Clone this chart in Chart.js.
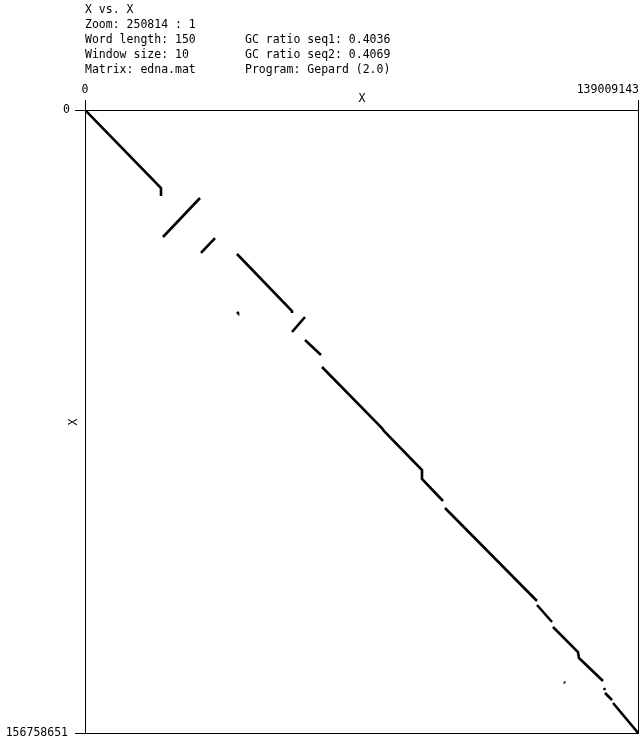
<!DOCTYPE html>
<html><head><meta charset="utf-8">
<script src="https://cdn.jsdelivr.net/npm/chart.js@4/dist/chart.umd.min.js"></script>
<style>html,body{margin:0;padding:0;background:#fff;}#wrap{width:644px;height:739px;}</style>
</head><body><div id="wrap"><canvas id="c" width="644" height="739"></canvas></div>
<script>
// Sequence lengths (axis ranges)
const seqXLength = 139009143;
const seqYLength = 156758651;
const xTickLabels = ["0", "139009143"];
const yTickLabels = ["0", "156758651"];
const headerLeft = ["X vs. X", "Zoom: 250814 : 1", "Word length: 150", "Window size: 10", "Matrix: edna.mat"];
const headerRight = ["", "", "GC ratio seq1: 0.4036", "GC ratio seq2: 0.4069", "Program: Gepard (2.0)"];
const axisTitleX = "X";
const axisTitleY = "X";

// Dotplot match segments (bp positions along seq1 / seq2)
const segmentX = [
  [0, 19.07e6, 19.07e6],
  [19.57e6, 28.86e6],
  [29.11e6, 32.62e6],
  [38.14e6, 51.94e6, 51.94e6],
  [38.14e6, 38.39e6],
  [51.94e6, 55.20e6],
  [55.20e6, 59.22e6],
  [59.47e6, 74.5e6, 75.0e6, 84.56e6, 84.56e6, 89.83e6],
  [90.33e6, 113.42e6],
  [113.42e6, 117.18e6],
  [117.43e6, 123.70e6, 123.95e6, 129.98e6],
  [120.19e6, 120.44e6],
  [130.23e6, 130.48e6],
  [130.48e6, 132.23e6],
  [132.49e6, 139.009143e6]
];
const segmentY = [
  [0, 19.59e6, 21.60e6],
  [31.90e6, 22.11e6],
  [35.92e6, 32.16e6],
  [36.18e6, 50.50e6, 51.00e6],
  [50.75e6, 51.00e6],
  [55.77e6, 52.00e6],
  [57.78e6, 61.55e6],
  [64.56e6, 79.9e6, 80.6e6, 90.44e6, 92.70e6, 98.23e6],
  [99.98e6, 123.35e6],
  [124.35e6, 128.62e6],
  [129.88e6, 136.16e6, 137.67e6, 143.44e6],
  [143.70e6, 143.95e6],
  [145.20e6, 145.70e6],
  [146.46e6, 148.22e6],
  [148.97e6, 156.758651e6]
];

const datasets = segmentX.map((xs, i) => ({
  data: xs.map((x, j) => ({x: x, y: segmentY[i][j]})),
  showLine: true,
  borderColor: '#000',
  backgroundColor: '#000',
  borderWidth: 2.6,
  pointRadius: 0,
  borderCapStyle: 'butt',
  tension: 0
}));

const FONT = '11.5px "DejaVu Sans Mono", monospace';

const framePlugin = {
  id: 'frame',
  afterDraw(chart) {
    const ctx = chart.ctx;
    const xs = chart.scales.x, ys = chart.scales.y;
    const L = xs.getPixelForValue(0), R = xs.getPixelForValue(seqXLength);
    const T = ys.getPixelForValue(0), B = ys.getPixelForValue(seqYLength);
    ctx.save();
    ctx.strokeStyle = '#000';
    ctx.lineWidth = 1;
    ctx.beginPath();
    ctx.rect(Math.round(L) + 0.5, Math.round(T) + 0.5, Math.round(R - L) - 1, Math.round(B - T) - 1);
    // ticks
    ctx.moveTo(Math.round(L) + 0.5, T - 10); ctx.lineTo(Math.round(L) + 0.5, T);
    ctx.moveTo(Math.round(R) - 0.5, T - 10); ctx.lineTo(Math.round(R) - 0.5, T);
    ctx.moveTo(L - 10, Math.round(T) + 0.5); ctx.lineTo(L, Math.round(T) + 0.5);
    ctx.moveTo(L - 10, Math.round(B) - 0.5); ctx.lineTo(L, Math.round(B) - 0.5);
    ctx.stroke();

    ctx.fillStyle = '#000';
    ctx.font = FONT;
    ctx.textBaseline = 'alphabetic';
    // header
    headerLeft.forEach((t, i) => { ctx.textAlign = 'left'; ctx.fillText(t, 85, 13 + i * 15); });
    headerRight.forEach((t, i) => { if (t) { ctx.textAlign = 'left'; ctx.fillText(t, 245, 13 + i * 15); } });
    // x tick labels
    ctx.textAlign = 'center';
    ctx.fillText(xTickLabels[0], L, 93);
    ctx.textAlign = 'right';
    ctx.fillText(xTickLabels[1], R, 93);
    // x title
    ctx.textAlign = 'center';
    ctx.fillText(axisTitleX, (L + R) / 2, 102);
    // y tick labels
    ctx.textAlign = 'right';
    ctx.textBaseline = 'middle';
    ctx.fillText(yTickLabels[0], 70, T);
    ctx.fillText(yTickLabels[1], 68, B - 1);
    // y title
    ctx.save();
    ctx.translate(74, (T + B) / 2);
    ctx.rotate(-Math.PI / 2);
    ctx.textAlign = 'center';
    ctx.textBaseline = 'middle';
    ctx.fillText(axisTitleY, 0, 0);
    ctx.restore();
    ctx.restore();
  }
};

new Chart(document.getElementById('c'), {
  type: 'scatter',
  data: { datasets },
  options: {
    responsive: false,
    animation: false,
    events: [],
    layout: { padding: { left: 85, top: 110, right: 5, bottom: 5 } },
    plugins: { legend: { display: false }, tooltip: { enabled: false }, title: { display: false } },
    scales: {
      x: { type: 'linear', position: 'top', min: 0, max: seqXLength, display: false },
      y: { type: 'linear', reverse: true, min: 0, max: seqYLength, display: false }
    }
  },
  plugins: [framePlugin]
});
</script>
</body></html>
